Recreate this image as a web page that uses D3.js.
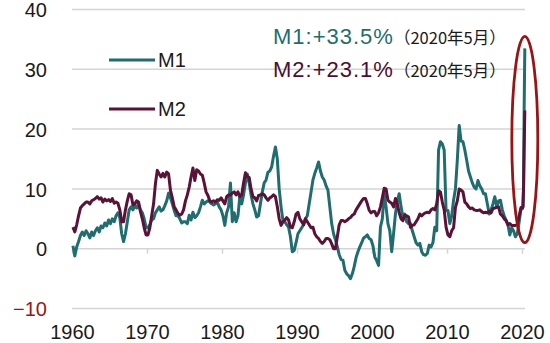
<!DOCTYPE html>
<html><head><meta charset="utf-8">
<script src="https://cdn.jsdelivr.net/npm/d3@7"></script>
<style>
html,body{margin:0;padding:0;background:#fff;}
svg{display:block;}
</style></head>
<body>
<svg id="chart" width="550" height="343"></svg>
<script>
// ---------- data ----------
const startYear = 1960;
const yTicks = [-10, 0, 10, 20, 30, 40];
const xTicks = [1960, 1970, 1980, 1990, 2000, 2010, 2020];
const seriesNames = ["M1", "M2"];
// quarterly YoY growth (%), 1960Q1 .. 2019Q4
const m1Quarterly = [
  0.5,-1.2,0.3,1.2, 2.2,2.8,2.2,3.0, 2.5,1.8,2.8,2.2, 3.0,3.5,2.8,3.8, 3.5,4.3,3.8,4.8,
  4.2,5.0,4.5,5.5, 6.0,5.2,2.5,1.2, 2.5,4.5,6.5,7.0, 6.5,7.2,6.8,7.5, 6.5,6.0,5.0,3.5,
  3.5,4.0,4.8,5.0, 6.0,6.5,7.0,6.3, 6.5,7.2,8.0,9.3, 8.5,7.5,6.4,5.5, 5.5,5.0,4.3,4.5,
  4.5,4.2,5.6,4.8, 6.1,5.2,5.5,6.0, 7.0,8.1,7.5,7.8, 8.0,7.8,7.5,7.3, 7.5,7.8,7.0,6.5,
  5.5,3.9,6.0,7.0, 11.0,4.5,6.0,4.5, 5.5,8.7,7.5,9.0, 11.0,12.5,11.0,9.0, 7.5,6.5,5.3,5.5,
  7.5,9.5,11.0,11.5, 12.8,13.0,13.7,15.5, 17.0,15.0,10.0,7.0, 4.7,4.5,4.0,3.6, 2.0,-0.5,-0.3,1.0,
  2.5,3.0,3.5,4.0, 5.0,5.5,7.5,9.5, 11.5,12.6,13.5,14.5, 13.0,12.0,11.5,10.5, 9.8,7.0,4.2,2.5,
  1.5,0.3,-1.0,-1.8, -1.9,-3.6,-4.2,-4.5, -5.0,-4.2,-3.0,-1.5, -0.5,0.3,1.0,1.8, 2.0,2.3,1.7,1.5,
  0.5,-1.4,-2.0,-2.8, 3.6,5.0,9.2,7.0, 4.2,3.0,-0.5,2.5, 5.8,8.0,9.2,7.0, 5.3,5.8,4.5,4.2,
  4.2,3.0,2.0,1.0, 0.6,0.9,-0.5,-1.0, -1.1,-0.8,0.6,0.3, 1.0,3.6,3.0,16.5, 17.9,17.5,16.5,6.4,
  6.4,4.2,5.5,8.1, 10.0,14.8,20.6,18.0, 17.9,16.5,14.8,13.0, 12.0,11.0,10.3,10.0, 11.4,10.5,10.0,9.2,
  9.2,7.5,5.8,6.5, 7.5,8.7,7.0,8.0, 8.1,6.5,5.5,4.8, 4.0,2.3,3.5,3.0, 2.0,2.5,4.5,6.7
];
const m2Quarterly = [
  3.6,2.8,4.0,5.5, 6.8,7.2,7.5,7.8, 7.8,7.5,8.0,8.2, 8.4,8.7,8.3,8.5, 7.8,8.3,8.0,8.2,
  7.9,8.4,7.6,7.8, 7.6,6.5,4.5,4.5, 6.5,8.0,9.2,9.0, 7.3,7.5,8.0,7.8, 6.2,5.0,3.5,2.3,
  2.3,3.5,5.5,7.5, 10.9,13.1,12.5,12.0, 12.6,12.0,12.8,12.5, 9.8,8.5,7.0,6.5, 5.9,5.6,5.8,6.5,
  8.0,9.0,10.3,12.0, 13.5,11.4,13.2,13.0, 12.5,12.3,11.0,9.5, 8.9,8.0,7.8,8.0, 7.8,8.2,8.1,8.5,
  8.0,7.5,8.7,9.0, 9.0,9.3,9.5,9.0, 9.5,8.7,9.0,11.0, 12.7,12.0,11.9,10.0, 8.7,8.5,8.0,8.9,
  9.0,9.2,9.0,8.5, 8.1,8.5,8.7,9.0, 8.7,7.0,5.0,3.9, 4.5,4.8,5.2,4.8, 3.6,3.5,4.5,5.8,
  6.1,5.0,4.5,4.0, 5.0,4.5,4.0,3.5, 3.6,2.5,2.0,1.7, 1.2,0.9,1.2,1.7, 1.7,1.5,0.8,0.0,
  0.0,2.0,4.0,4.7, 4.7,4.5,4.7,5.0, 5.2,5.6,5.8,6.5, 7.0,7.5,8.0,8.4, 8.4,7.5,6.4,6.0,
  6.2,6.2,5.5,6.0, 7.0,8.5,10.1,10.0, 8.1,7.8,7.6,7.0, 8.4,7.5,6.0,5.0, 4.7,5.6,5.5,5.3,
  3.6,3.9,4.0,4.5, 5.0,5.8,5.5,5.8, 6.0,6.1,6.0,6.5, 6.7,6.5,7.5,9.7, 9.5,7.8,6.5,3.6,
  2.3,2.0,3.0,3.5, 6.9,8.0,10.0,9.8, 9.5,7.8,7.5,7.0, 6.7,6.8,6.5,6.4, 6.4,6.5,6.2,6.0,
  6.1,6.0,6.3,6.0, 6.7,6.8,6.9,7.0, 5.8,5.5,5.0,4.7, 4.0,4.2,3.9,3.9, 3.9,4.0,5.5,6.9
];
// monthly 2020 Jan..May
const m1Monthly2020 = [6.7, 7.0, 10.5, 24.0, 33.5];
const m2Monthly2020 = [6.8, 7.0, 10.0, 17.0, 23.1];
const annotM1 = "M1:+33.5%";
const annotM2 = "M2:+23.1%";
const annotDate = "（2020年5月）";

// ---------- build series ----------
function build(q, m) {
  const pts = q.map((v, i) => ({ t: startYear + Math.floor(i / 4) + (i % 4) * 0.25 + 0.125, v }));
  m.forEach((v, j) => pts.push({ t: 2020 + (j + 0.5) / 12, v }));
  return pts;
}
const s1 = build(m1Quarterly, m1Monthly2020);
const s2 = build(m2Quarterly, m2Monthly2020);

// ---------- layout ----------
const svg = d3.select("#chart");
const x = d3.scaleLinear().domain([1960, 2020]).range([72, 522]);
const y = d3.scaleLinear().domain([-10, 40]).range([308.5, 9.5]);
const colM1 = "#1f6d6f", colM2 = "#5a1236", colRed = "#9a1414";
const tickFont = "'Liberation Sans', Arial, sans-serif";

// gridlines
svg.append("g").selectAll("line").data(yTicks).join("line")
  .attr("x1", x(1960)).attr("x2", x(2020.4))
  .attr("y1", d => y(d)).attr("y2", d => y(d))
  .attr("stroke", "#d4d4d4").attr("stroke-width", 1.5);

// x-axis ticks on zero line
const xAxis = d3.axisBottom(x).tickValues(xTicks).tickSize(5).tickFormat(d3.format("d"));
const gx = svg.append("g").attr("transform", `translate(0,${y(0)})`).call(xAxis);
gx.select(".domain").remove();
gx.selectAll(".tick line").attr("stroke", "#d4d4d4").attr("stroke-width", 1.5);
gx.selectAll(".tick text").remove();

// x labels at bottom
const gxl = svg.append("g").attr("transform", `translate(0,${y(-10)})`)
  .call(d3.axisBottom(x).tickValues(xTicks).tickSize(0).tickPadding(0).tickFormat(d3.format("d")));
gxl.select(".domain").remove();
gxl.selectAll(".tick text").attr("font-family", tickFont).attr("font-size", 20)
  .attr("fill", "#1a1a1a").attr("dy", null).attr("y", 30);

// y labels
const gy = svg.append("g").attr("transform", `translate(47,0)`)
  .call(d3.axisLeft(y).tickValues(yTicks).tickSize(0).tickPadding(0));
gy.select(".domain").remove();
gy.selectAll(".tick text").attr("font-family", tickFont).attr("font-size", 20)
  .attr("fill", d => d < 0 ? colRed : "#1a1a1a").attr("dy", "0.36em").attr("x", 0)
  .text(d => d < 0 ? "−" + Math.abs(d) : d);

// lines
const line = d3.line().x(d => x(d.t)).y(d => y(d.v)).curve(d3.curveLinear);
svg.append("path").datum(s1).attr("d", line).attr("fill", "none")
  .attr("stroke", colM1).attr("stroke-width", 3).attr("stroke-linejoin", "round");
svg.append("path").datum(s2).attr("d", line).attr("fill", "none")
  .attr("stroke", colM2).attr("stroke-width", 3).attr("stroke-linejoin", "round");

// ellipse highlight
const last1 = s1[s1.length - 1];
svg.append("ellipse").attr("cx", x(last1.t)).attr("cy", (y(35.5) + y(1)) / 2)
  .attr("rx", 13).attr("ry", (y(1) - y(35.5)) / 2)
  .attr("fill", "none").attr("stroke", colRed).attr("stroke-width", 2.8);

// legend
const legend = svg.append("g");
[[colM1, 60], [colM2, 109]].forEach(([c, ly], i) => {
  legend.append("line").attr("x1", 109).attr("x2", 155).attr("y1", ly).attr("y2", ly)
    .attr("stroke", c).attr("stroke-width", 3);
  legend.append("text").attr("x", 158).attr("y", ly).attr("dy", "0.36em")
    .attr("font-family", tickFont).attr("font-size", 20).attr("fill", "#1a1a1a")
    .text(seriesNames[i]);
});

// annotations
const jp = "'Noto Sans CJK JP', 'Noto Sans', sans-serif";
[[annotM1, colM1, 38], [annotM2, "#4a1030", 71]].forEach(([t, c, ay]) => {
  const tx = svg.append("text").attr("x", 273).attr("y", ay).attr("dy", "0.36em");
  tx.append("tspan").attr("font-family", tickFont).attr("font-size", 22)
    .attr("letter-spacing", 1).attr("fill", c).text(t);
  tx.append("tspan").attr("font-family", jp).attr("font-size", 16.5)
    .attr("fill", "#1a1a1a").text(annotDate);
});
</script>
</body></html>
